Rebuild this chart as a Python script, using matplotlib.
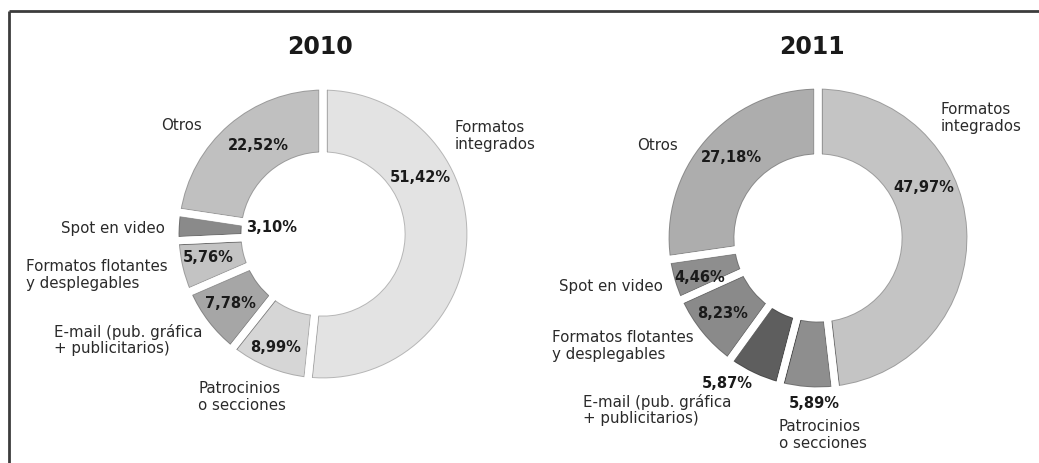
import matplotlib
matplotlib.use("Agg")
import matplotlib.pyplot as plt
from matplotlib.colors import to_rgb

# * - - - Data: share of online ad formats (%)
categories = [
    "Formatos\nintegrados",
    "Patrocinios\no secciones",
    "E-mail (pub. gráfica\n+ publicitarios)",
    "Formatos flotantes\ny desplegables",
    "Spot en video",
    "Otros",
]
years = ["2010", "2011"]
values_2010 = [51.42, 8.99, 7.78, 5.76, 3.10, 22.52]
values_2011 = [47.97, 5.89, 5.87, 8.23, 4.46, 27.18]

colors_2010 = ["#e3e3e3", "#d6d6d6", "#a6a6a6", "#c3c3c3", "#8a8a8a", "#c0c0c0"]
colors_2011 = ["#c4c4c4", "#8e8e8e", "#5e5e5e", "#8a8a8a", "#8e8e8e", "#adadad"]

# * - - - Canvas in pixel units (y measured from top, flipped when drawing)
W, H = 1039, 463
fig = plt.figure(figsize=(W / 100, H / 100), dpi=100)
ax = fig.add_axes([0, 0, 1, 1])

GAP = 5.2  # white gap between wedges [pt]
OUTLINE = 1.4  # extra width that shows as wedge outline [pt]


def fy(y):
    return H - y


def darker(c, f=0.8):
    r, g, b = to_rgb(c)
    return (r * f, g * f, b * f)


# * - - - Layout per chart: donut center, radii, label anchors
charts = [
    {
        "values": values_2010,
        "colors": colors_2010,
        "center": (323, 234),
        "radius": 148,
        "inner": 78,
        "title": (320, 47),
        # category labels: (x, y, ha)
        "names": [(455, 136, "left"), (198, 397, "left"), (54, 340, "left"),
                  (26, 275, "left"), (165, 228, "right"), (182, 125, "center")],
        # percentage labels
        "pcts": [(420, 178), (276, 348), (230, 303), (208, 258), (272, 228), (258, 145)],
    },
    {
        "values": values_2011,
        "colors": colors_2011,
        "center": (818, 238),
        "radius": 153,
        "inner": 80,
        "title": (812, 47),
        "names": [(941, 118, "left"), (779, 435, "left"), (583, 410, "left"),
                  (552, 346, "left"), (663, 287, "right"), (657, 145, "center")],
        "pcts": [(924, 188), (814, 404), (727, 383), (723, 313), (700, 278), (731, 157)],
    },
]

for year, ch in zip(years, charts):
    cx, cy = ch["center"]
    c = (cx, fy(cy))
    R = ch["radius"]
    ring = R - ch["inner"]

    # filled wedges with a thick darker edge
    wedges, _ = ax.pie(
        ch["values"], colors=ch["colors"], startangle=90, counterclock=False,
        center=c, radius=R,
        wedgeprops=dict(width=ring, linewidth=GAP + OUTLINE, joinstyle="round"),
    )
    for wdg, col in zip(wedges, ch["colors"]):
        wdg.set_edgecolor(darker(col))

    # white strokes on top leave a thin outline and open the gaps
    ax.pie(
        ch["values"], startangle=90, counterclock=False, center=c, radius=R,
        wedgeprops=dict(width=ring, facecolor="none", edgecolor="white",
                        linewidth=GAP, joinstyle="round"),
    )
    # clean the outer rim and the hole
    ax.pie([1], colors=["white"], center=c, radius=R + 10,
           wedgeprops=dict(width=10, linewidth=0))
    ax.pie([1], colors=["white"], center=c, radius=ch["inner"],
           wedgeprops=dict(linewidth=0))

    tx, ty = ch["title"]
    ax.text(tx, fy(ty), year, ha="center", va="center", fontsize=17,
            fontweight="bold", color="#1a1a1a")

    for name, (x, y, ha) in zip(categories, ch["names"]):
        ax.text(x, fy(y), name, ha=ha, va="center", fontsize=10.8,
                color="#2a2a2a", linespacing=1.15)

    for v, (x, y) in zip(ch["values"], ch["pcts"]):
        label = f"{v:.2f}%".replace(".", ",")
        ax.text(x, fy(y), label, ha="center", va="center", fontsize=10.5,
                fontweight="bold", color="#1a1a1a")

# * - - - Frame lines (top and left)
ax.plot([9, W], [fy(11), fy(11)], color="#3c3c3c", lw=2, solid_capstyle="butt")
ax.plot([9, 9], [fy(11), 0], color="#3c3c3c", lw=2, solid_capstyle="butt")

ax.set_xlim(0, W)
ax.set_ylim(0, H)
ax.set_aspect("equal")
ax.axis("off")

fig.savefig("out.png", dpi=100, facecolor="white")
